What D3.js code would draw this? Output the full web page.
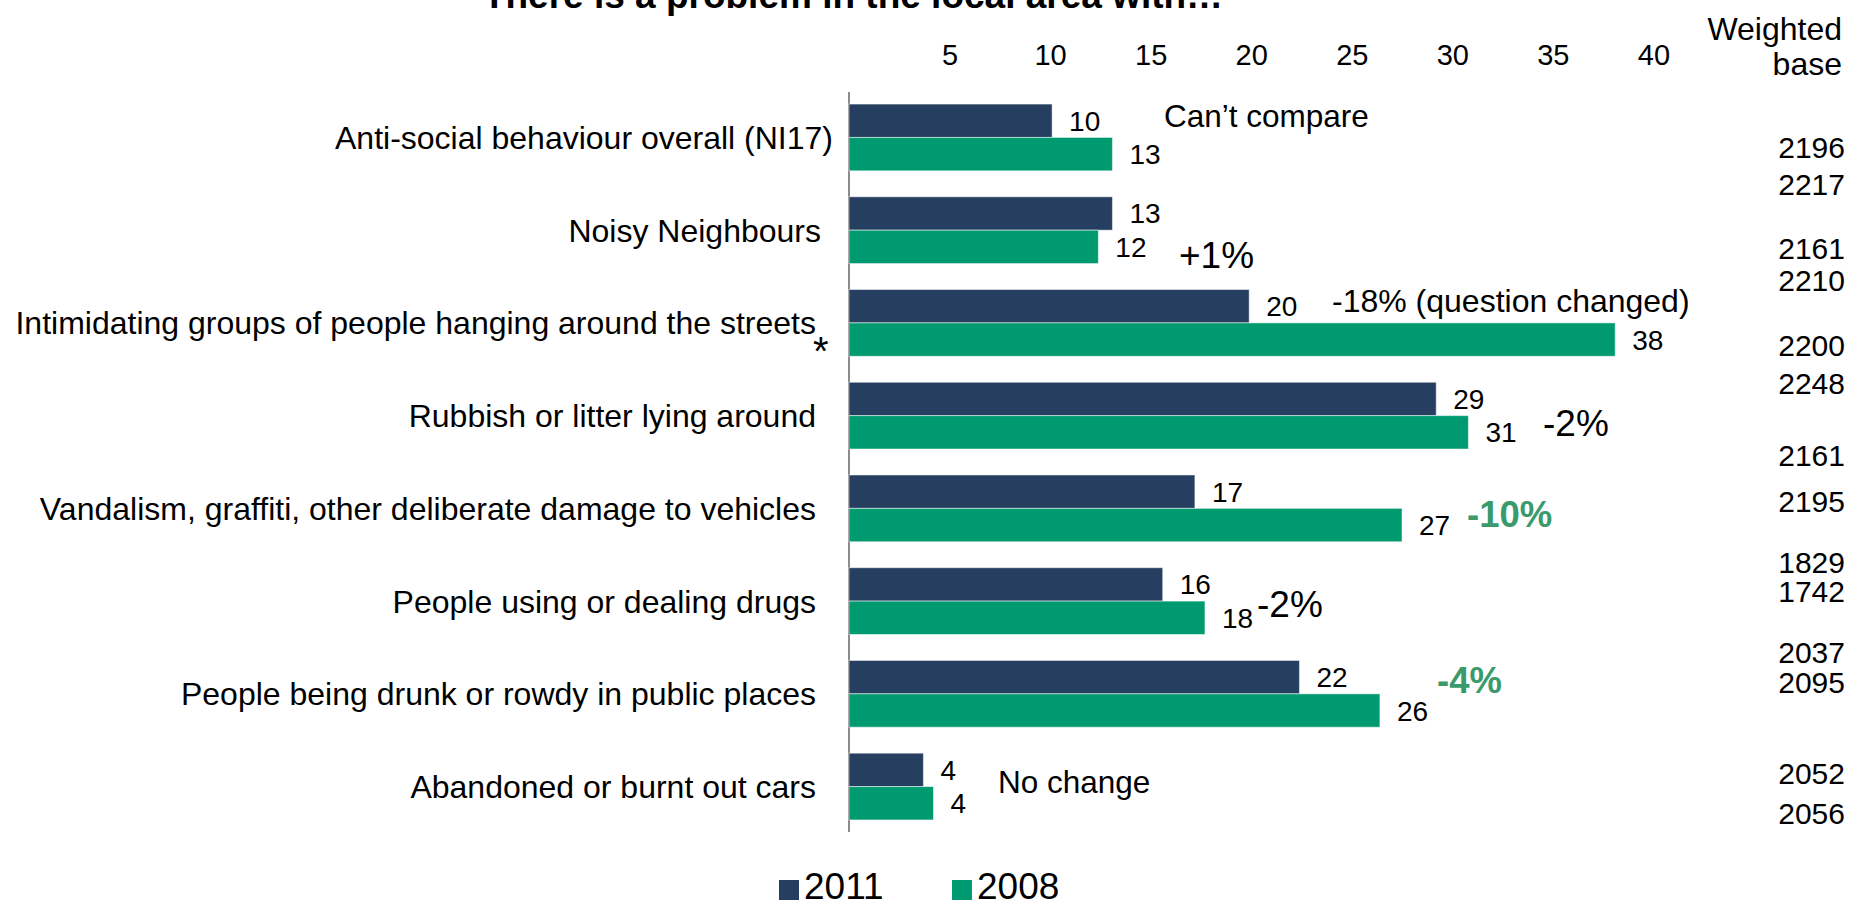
<!DOCTYPE html>
<html>
<head>
<meta charset="utf-8">
<script src="https://cdn.jsdelivr.net/npm/d3@7"></script>
<style>
  html, body { margin: 0; padding: 0; background: #ffffff; }
  svg { display: block; font-family: "Liberation Sans", Arial, sans-serif; }
</style>
</head>
<body>
<svg id="chart" width="1865" height="907"></svg>
<script>
// ---------------- DATA ----------------
const title = "There is a problem in the local area with…";
const categories = [
  "Anti-social behaviour overall (NI17)",
  "Noisy Neighbours",
  "Intimidating groups of people hanging around the streets",
  "Rubbish or litter lying around",
  "Vandalism, graffiti, other deliberate damage to vehicles",
  "People using or dealing drugs",
  "People being drunk or rowdy in public places",
  "Abandoned or burnt out cars"
];
const seriesNames = ["2011", "2008"];
// bar lengths
const values2011 = [10.1, 13.1, 19.9, 29.2, 17.2, 15.6, 22.4, 3.7];
const values2008 = [13.1, 12.4, 38.1, 30.8, 27.5, 17.7, 26.4, 4.2];
// printed (rounded) labels
const labels2011 = [10, 13, 20, 29, 17, 16, 22, 4];
const labels2008 = [13, 12, 38, 31, 27, 18, 26, 4];
const tickValues = [5, 10, 15, 20, 25, 30, 35, 40];
const changeNotes = ["Can’t compare", "+1%", "-18% (question changed)", "-2%", "-10%", "-2%", "-4%", "No change"];
const changeSignificant = [false, false, false, false, true, false, true, false];
const weightedBaseTitle = ["Weighted", "base"];
const weightedBase = [2196, 2217, 2161, 2210, 2200, 2248, 2161, 2195, 1829, 1742, 2037, 2095, 2052, 2056];

// ---------------- LAYOUT / STYLE ----------------
const colors = { "2011": "#263f60", "2008": "#009a70" };
const sigColor = "#3a9a6c";
const axisX0 = 849;
const unitPx = 20.11;
const plotTop = 92, plotBottom = 832;
const labelRight = 816;
const labelDx = [17, 5, 0, 0, 0, 0, 0, 0];
const noteX = [1164, 1179, 1332, 1543, 1467, 1257, 1437, 998];
const noteY = [127, 268, 312, 436, 527, 617, 693, 793];
const noteSize = [31.5, 37, 32, 37, 36.5, 37, 36.5, 31.5];
const baseRight = 1845;
const baseY = [158, 195, 259, 291, 356, 394, 466, 512, 573, 602, 663, 693, 784, 824];

const svg = d3.select("#chart");

const x = d3.scaleLinear().domain([0, 40]).range([axisX0, axisX0 + 40 * unitPx]);
const y = d3.scaleBand().domain(categories).range([plotTop, plotBottom])
  .paddingInner(0.28).paddingOuter(0.13);
const sub = d3.scaleBand().domain(seriesNames).range([0, y.bandwidth()]).padding(0);

// Title (partly cut off at top, as in the source)
svg.append("text")
  .attr("x", 853).attr("y", 8)
  .attr("text-anchor", "middle")
  .attr("font-size", 37).attr("font-weight", "bold")
  .text(title);

// Top axis tick labels
const xAxis = d3.axisTop(x).tickValues(tickValues).tickSize(0).tickPadding(0);
const gx = svg.append("g").attr("transform", "translate(0,65)").call(xAxis);
gx.select(".domain").remove();
gx.selectAll("text").attr("font-size", 29).attr("fill", "#000")
  .attr("font-family", "Liberation Sans, Arial, sans-serif").attr("dy", 0);

// Vertical axis line
svg.append("line")
  .attr("x1", axisX0).attr("x2", axisX0)
  .attr("y1", plotTop).attr("y2", plotBottom)
  .attr("stroke", "#8c8c8c").attr("stroke-width", 2);

// Category labels
svg.append("g").selectAll("text").data(categories).join("text")
  .attr("x", (d, i) => labelRight + labelDx[i])
  .attr("y", d => y(d) + y.bandwidth() / 2 + 11.5)
  .attr("text-anchor", "end")
  .attr("font-size", 32)
  .text(d => d);

// asterisk after "streets"
svg.append("text")
  .attr("x", labelRight - 3)
  .attr("y", y(categories[2]) + y.bandwidth() + 9)
  .attr("font-size", 40)
  .text("*");

// Bars
const rows = categories.map((c, i) => ({ cat: c, vals: [
  { s: "2011", v: values2011[i], t: labels2011[i] },
  { s: "2008", v: values2008[i], t: labels2008[i] }
]}));

const groups = svg.append("g").selectAll("g").data(rows).join("g")
  .attr("transform", d => `translate(0,${y(d.cat)})`);

groups.selectAll("rect").data(d => d.vals).join("rect")
  .attr("x", x(0))
  .attr("y", d => sub(d.s))
  .attr("width", d => x(d.v) - x(0))
  .attr("height", sub.bandwidth())
  .attr("fill", d => colors[d.s])
  .attr("stroke", "rgba(255,255,255,0.5)")
  .attr("stroke-width", 1);

groups.selectAll("text.val").data(d => d.vals).join("text")
  .attr("class", "val")
  .attr("x", d => x(d.v) + 17)
  .attr("y", d => sub(d.s) + sub.bandwidth() / 2 + 10)
  .attr("font-size", 28)
  .text(d => d.t);

// Change notes
svg.append("g").selectAll("text").data(changeNotes).join("text")
  .attr("x", (d, i) => noteX[i])
  .attr("y", (d, i) => noteY[i])
  .attr("font-size", (d, i) => noteSize[i])
  .attr("font-weight", (d, i) => changeSignificant[i] ? "bold" : "normal")
  .attr("fill", (d, i) => changeSignificant[i] ? sigColor : "#000")
  .text(d => d);

// Weighted base header
svg.append("g").selectAll("text").data(weightedBaseTitle).join("text")
  .attr("x", 1842)
  .attr("y", (d, i) => 40 + i * 35)
  .attr("text-anchor", "end")
  .attr("font-size", 32)
  .text(d => d);

// Weighted base values
svg.append("g").selectAll("text").data(weightedBase).join("text")
  .attr("x", baseRight)
  .attr("y", (d, i) => baseY[i])
  .attr("text-anchor", "end")
  .attr("font-size", 30)
  .text(d => d);

// Legend
const legendX = [779, 952];
const leg = svg.append("g").selectAll("g").data(seriesNames).join("g")
  .attr("transform", (d, i) => `translate(${legendX[i]},880)`);
leg.append("rect").attr("width", 20).attr("height", 20).attr("fill", d => colors[d]);
leg.append("text").attr("x", 25).attr("y", 19).attr("font-size", 37).text(d => d);
</script>
</body>
</html>
